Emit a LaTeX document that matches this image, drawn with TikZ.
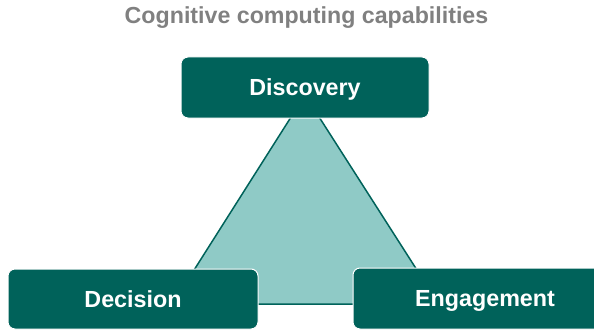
\documentclass[tikz,border=0pt]{standalone}
\usepackage{fontspec}
\setmainfont{Liberation Sans}
\definecolor{teal1}{HTML}{00625A}
\definecolor{tealfill}{HTML}{8FCAC6}
\definecolor{titlegrey}{HTML}{808080}
\begin{document}
\begin{tikzpicture}[x=1pt,y=1pt,
  capbox/.style={draw=white, line width=1pt, fill=teal1, rounded corners=7pt,
    text=white, font=\fontsize{23.3}{27}\selectfont\bfseries, inner sep=0pt,
    text height=16.7pt, text depth=0pt},
  tri/.style={fill=tealfill, draw=teal1, line width=1.5pt, line join=miter}]
\useasboundingbox (0,0) rectangle (594,330);
\node[font=\fontsize{23.2}{27}\selectfont\bfseries, text=titlegrey, text height=16.6pt, text depth=0pt, inner sep=0pt] (title) at (306.5,315) {Cognitive computing capabilities};
\coordinate (apex) at (305,235);
\coordinate (bl) at (172.5,26);
\coordinate (br) at (438.7,26);
\draw[tri] (apex) -- (bl) -- (br) -- cycle;
\node[capbox, minimum width=248pt, minimum height=61pt] (disc) at (305,242.5) {Discovery};
\node[capbox, minimum width=250pt, minimum height=60pt] (deci) at (133,31) {Decision};
\node[capbox, minimum width=264pt, minimum height=61pt] (enga) at (485,31.5) {Engagement};
\end{tikzpicture}
\end{document}
